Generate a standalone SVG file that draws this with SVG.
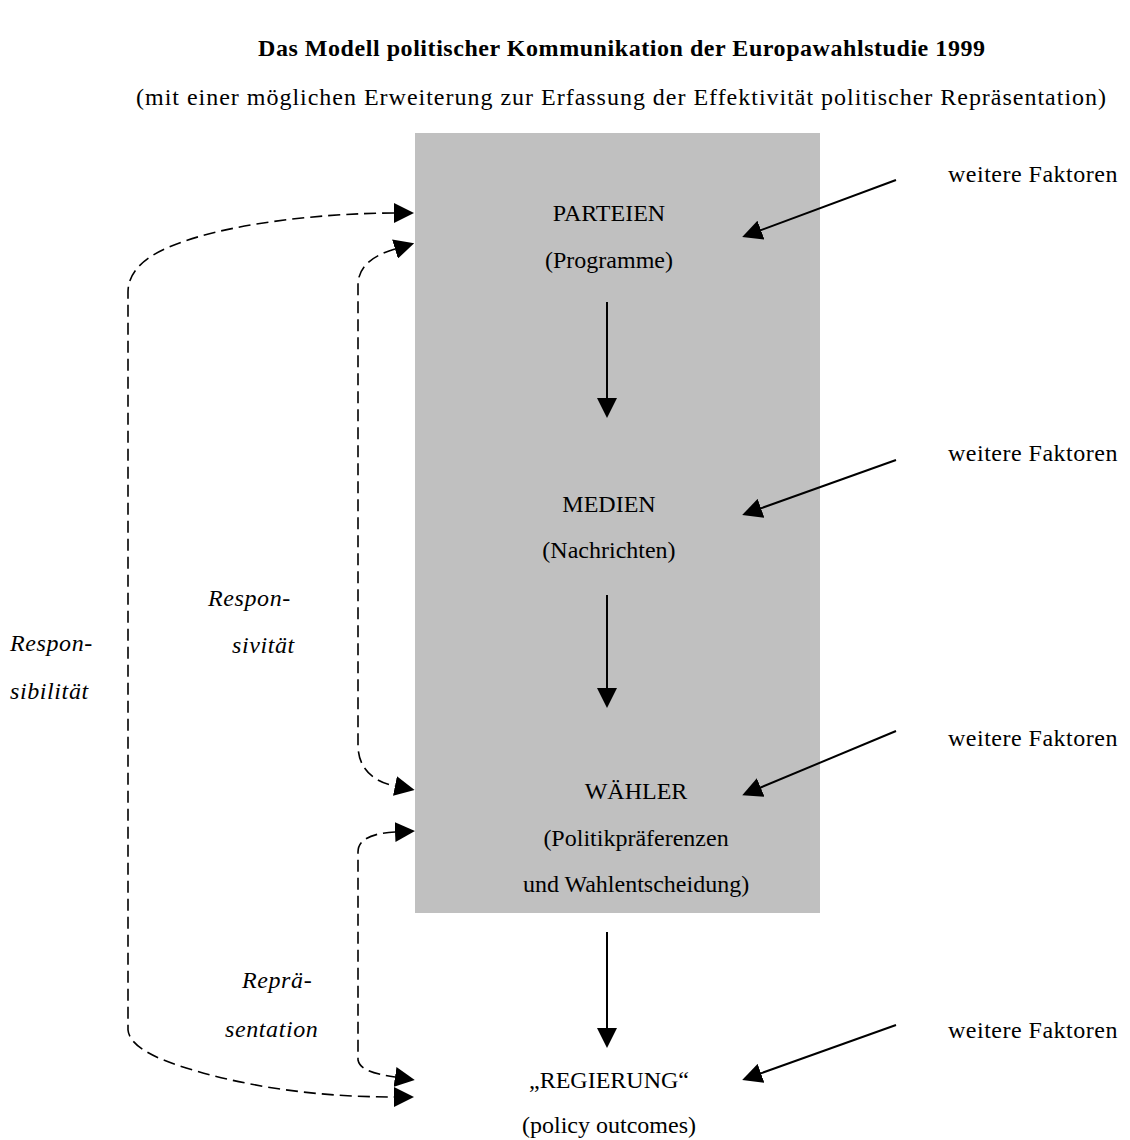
<svg xmlns="http://www.w3.org/2000/svg" width="1130" height="1140" viewBox="0 0 1130 1140">
<style>
text{font-family:"Liberation Serif","Times New Roman",serif;font-size:24px;fill:#000}
.c{text-anchor:middle}
.t{font-weight:bold}
.f{letter-spacing:0.5px}
.i{font-style:italic;letter-spacing:0.6px}
.solid{stroke:#000;stroke-width:2;fill:none}
.dash{stroke:#000;stroke-width:1.6;fill:none;stroke-dasharray:12 6}
</style>
<defs>
<marker id="ah" markerUnits="userSpaceOnUse" markerWidth="20" markerHeight="20" refX="17" refY="10" orient="auto" viewBox="0 0 20 20">
<path d="M0,0 L20,10 L0,20 z" fill="#000"/>
</marker>
<marker id="dh" markerUnits="userSpaceOnUse" markerWidth="20" markerHeight="20" refX="0" refY="10" orient="auto-start-reverse" viewBox="0 0 20 20">
<path d="M0,0 L20,10 L0,20 z" fill="#000"/>
</marker>
</defs>
<g id="title">
<text class="t" x="258" y="56" textLength="727" lengthAdjust="spacing">Das Modell politischer Kommunikation der Europawahlstudie 1999</text>
<text x="136" y="105" textLength="970" lengthAdjust="spacing">(mit einer möglichen Erweiterung zur Erfassung der Effektivität politischer Repräsentation)</text>
</g>
<rect id="box" x="415" y="133" width="405" height="780" fill="#c0c0c0"/>
<g id="parteien">
<text class="c" x="609" y="221">PARTEIEN</text>
<text class="c" x="609" y="268">(Programme)</text>
</g>
<g id="medien">
<text class="c" x="609" y="512">MEDIEN</text>
<text class="c" x="609" y="558">(Nachrichten)</text>
</g>
<g id="waehler">
<text class="c" x="636" y="799">WÄHLER</text>
<text class="c" x="636" y="846">(Politikpräferenzen</text>
<text class="c" x="636" y="892">und Wahlentscheidung)</text>
</g>
<g id="regierung">
<text class="c" x="609" y="1088">„REGIERUNG“</text>
<text class="c" x="609" y="1133">(policy outcomes)</text>
</g>
<g id="faktoren">
<text class="f" x="948" y="182">weitere Faktoren</text>
<text class="f" x="948" y="461">weitere Faktoren</text>
<text class="f" x="948" y="746">weitere Faktoren</text>
<text class="f" x="948" y="1038">weitere Faktoren</text>
</g>
<g id="labels">
<text class="i" x="208" y="606">Respon-</text>
<text class="i" x="232" y="653">sivität</text>
<text class="i" x="10" y="651">Respon-</text>
<text class="i" x="10" y="699">sibilität</text>
<text class="i" x="242" y="988">Reprä-</text>
<text class="i" x="225" y="1037">sentation</text>
</g>
<g id="connectors">
<line class="solid" x1="607" y1="302" x2="607" y2="415" marker-end="url(#ah)"/>
<line class="solid" x1="607" y1="595" x2="607" y2="705" marker-end="url(#ah)"/>
<line class="solid" x1="607" y1="932" x2="607" y2="1045" marker-end="url(#ah)"/>
<line class="solid" x1="896" y1="180" x2="745" y2="236" marker-end="url(#ah)"/>
<line class="solid" x1="896" y1="460" x2="745" y2="514" marker-end="url(#ah)"/>
<line class="solid" x1="896" y1="731" x2="745" y2="794" marker-end="url(#ah)"/>
<line class="solid" x1="896" y1="1025" x2="745" y2="1079" marker-end="url(#ah)"/>
<path class="dash" d="M394,213 C320,213 200,225 150,257 Q128,272 128,292 L128,1030 Q130,1052 193,1070 C260,1090 330,1097 394,1097" marker-start="url(#dh)" marker-end="url(#dh)"/>
<path class="dash" d="M395,249 C375,255 358,265 358,285 L358,745 C358,770 375,782 395,786" marker-start="url(#dh)" marker-end="url(#dh)"/>
<path class="dash" d="M395,832 C375,833 358,838 358,852 L358,1060 C360,1070 375,1074 395,1077" marker-start="url(#dh)" marker-end="url(#dh)"/>
</g>
</svg>
